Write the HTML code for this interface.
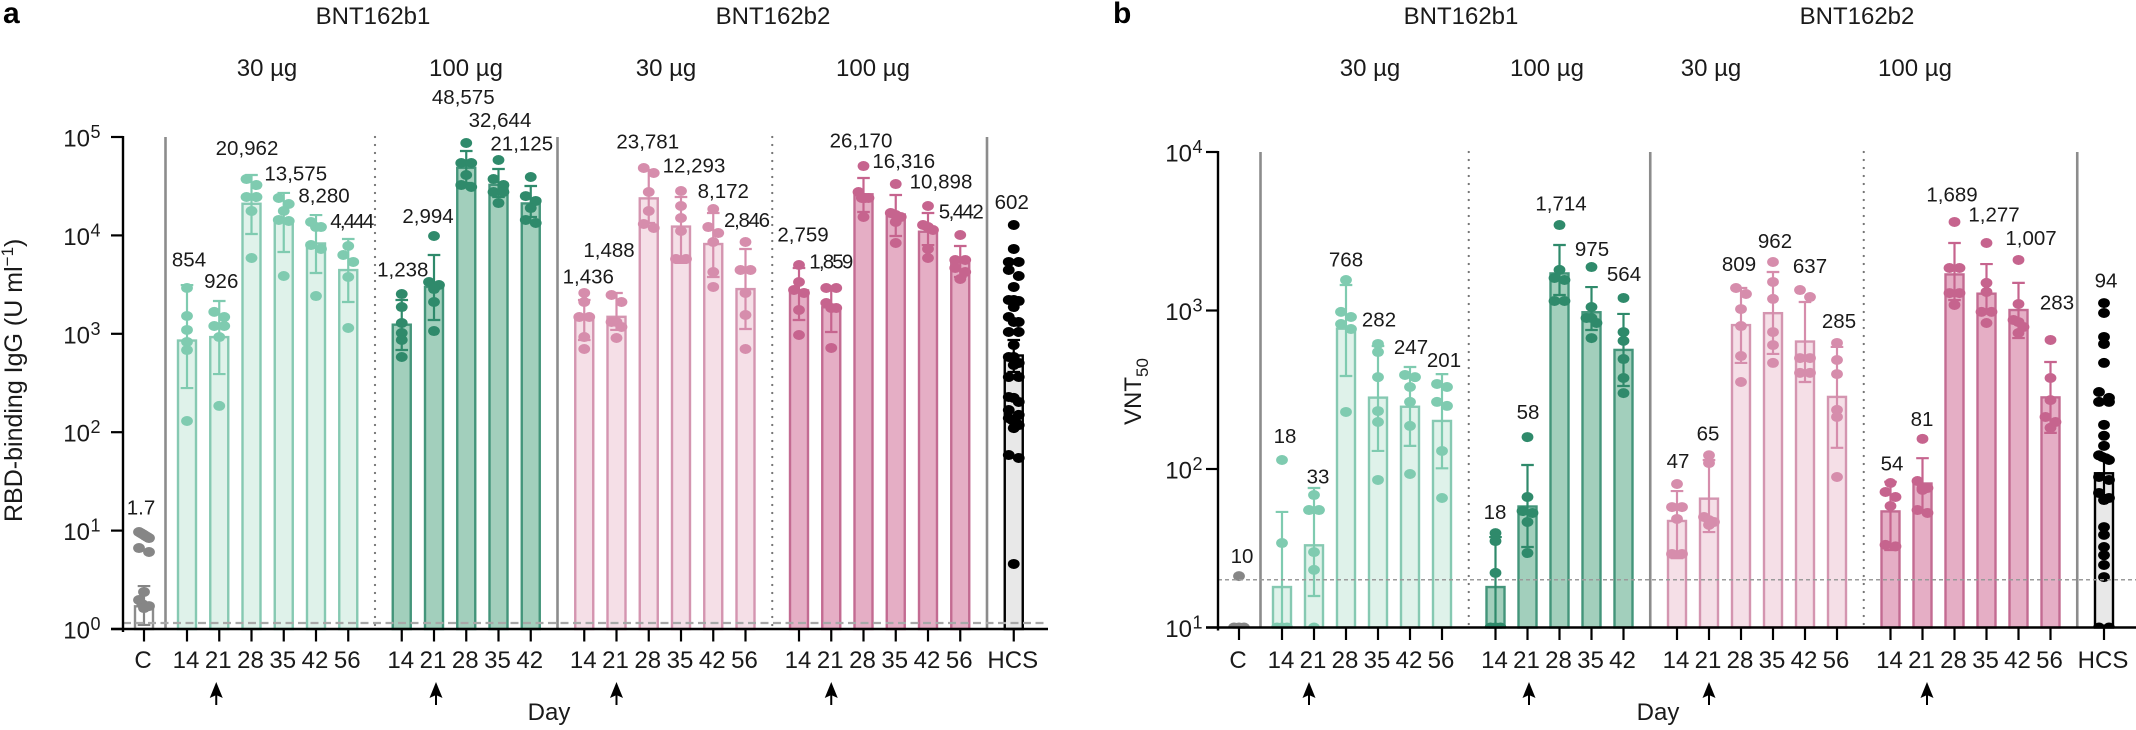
<!DOCTYPE html>
<html lang="en">
<head>
<meta charset="utf-8">
<title>RBD-binding IgG and VNT50 by day</title>
<style>
html,body{margin:0;padding:0;background:#fff;width:2136px;height:730px;overflow:hidden}
svg{display:block}
text{font-family:"Liberation Sans",Arial,sans-serif;fill:#1a1a1a}
</style>
</head>
<body>
<svg id="figure" xmlns="http://www.w3.org/2000/svg" width="2136" height="730" viewBox="0 0 2136 730">
  <defs>
    <clipPath id="clip-a"><rect x="123" y="100" width="930" height="529"/></clipPath>
    <clipPath id="clip-b"><rect x="1218" y="100" width="918" height="527.5"/></clipPath>
  </defs>
  <rect x="0" y="0" width="2136" height="730" fill="#ffffff"/>

  <text x="3" y="23" font-size="30" font-weight="700" style="fill:#000">a</text>
  <text x="1113" y="23" font-size="30" font-weight="700" style="fill:#000">b</text>

  <g font-size="24" text-anchor="middle">
    <text x="373" y="24">BNT162b1</text>
    <text x="773" y="24">BNT162b2</text>
    <text x="267" y="76">30 µg</text>
    <text x="466" y="76">100 µg</text>
    <text x="666" y="76">30 µg</text>
    <text x="873" y="76">100 µg</text>
  </g>
  <g font-size="24" text-anchor="middle">
    <text x="1461" y="24">BNT162b1</text>
    <text x="1857" y="24">BNT162b2</text>
    <text x="1370" y="76">30 µg</text>
    <text x="1547" y="76">100 µg</text>
    <text x="1711" y="76">30 µg</text>
    <text x="1915" y="76">100 µg</text>
  </g>

  <text transform="translate(22,522) rotate(-90)" font-size="25">RBD-binding IgG (U ml<tspan font-size="17" dy="-9">−1</tspan><tspan dy="9">)</tspan></text>
  <text transform="translate(1141,425) rotate(-90)" font-size="24">VNT<tspan font-size="17" dy="7">50</tspan></text>

  <text x="549" y="720" font-size="24" text-anchor="middle">Day</text>
  <text x="1658" y="720" font-size="24" text-anchor="middle">Day</text>

  <g id="panel-a"></g>
  <g id="panel-b"></g>
</svg>

<script>
/* ---------- shared categories ---------- */
const dayCategories = ['C','14','21','28','35','42','56','14','21','28','35','42','14','21','28','35','42','56','14','21','28','35','42','56','HCS'];
const groupSizes = [1,6,5,6,6,1];

/* ---------- panel a: RBD-binding IgG ---------- */
const aTickExponents = [0,1,2,3,4,5];
const aPrinted = ['1.7','854','926','20,962','13,575','8,280','4,444','1,238','2,994','48,575','32,644','21,125','1,436','1,488','23,781','12,293','8,172','2,846','2,759','1,859','26,170','16,316','10,898','5,442','602'];
const aMeans = [1.7,854,926,20962,13575,8280,4444,1238,2994,48575,32644,21125,1436,1488,23781,12293,8172,2846,2759,1859,26170,16316,10898,5442,602];
const aErrHigh = [2.73,3130,2153,41100,27000,16100,9190,2205,6320,72100,47300,31770,2205,2600,46200,24550,16900,7280,4667,2992,38300,25760,16900,7800,865];
const aErrLow = [1.1,281,390,10330,6780,4150,2104,684,1380,34100,24550,15380,865,1094,13370,5250,3780,1119,1380,1043,17300,9860,7980,3780,409];
const aDots = [
  [9.68,9.46,9.24,9.04,8.8,8.6,8.4,6.65,6.06,2.38,1.97,1.79,1.71,1.71,1.63],
  [2920,1517,1094,826,684,130],
  [1670,1480,1200,1200,927,185],
  [37400,32500,24550,24550,17700,5890],
  [24000,20840,17700,14350,14000,3865],
  [13680,12160,12160,7980,7280,2420],
  [7800,6320,5370,3780,1145],
  [2535,1871,1288,1019,865,581],
  [9860,3360,3133,2851,2104,1067],
  [86900,54400,54400,41100,32500,31050],
  [58400,37400,32500,27600,27600,21330],
  [39200,25100,22390,18970,14350,13370],
  [2600,2104,1482,1482,927,701],
  [2478,2104,1318,1318,1172,906],
  [48400,43050,27600,17700,13060,11890],
  [28250,19900,15030,11090,5755,5755],
  [18550,12160,10570,8570,4246,2992],
  [8570,4450,4450,2600,1552,701],
  [5000,3360,2786,2600,1746,972],
  [2920,2920,2056,1829,1829,718],
  [50700,27600,24000,24000,24000,15380],
  [33270,16900,16100,15380,13680,8375],
  [19900,12760,12160,11350,7280,5890],
  [10090,5620,5620,4667,4246,3606],
  [12760,7280,5370,5370,4450,3865,2992,2205,2205,2153,1871,1482,1318,1318,1043,1043,769,581,581,505,482,364,364,228,223,203,168,150,139,133,127,118,110,58.6,54.7,4.58]
];
const aQuantLimit = 1.15;
/* annotation placement of the printed values, relative to each bar top */
const aLabelDx = [-3,2,2,-4.5,12,8,4,1,-6,-3,1.5,-9,4,-7.5,-1,13,10,1.5,4,0,-2.5,8,13,1,-2];
const aLabelDy = [-92,-74,-49,-49,-42,-41,-42,-48,-64,-64,-58,-53,-35,-60,-50,-54,-46,-62,-49,-39,-47,-46.5,-43,-43,-146.5];

/* ---------- panel b: VNT50 ---------- */
const bTickExponents = [1,2,3,4];
const bPrinted = ['10','18','33','768','282','247','201','18','58','1,714','975','564','47','65','809','962','637','285','54','81','1,689','1,277','1,007','283','94'];
const bMeans = [10,18,33,768,282,247,201,18,58,1714,975,564,47,65,809,962,637,285,54,81,1689,1277,1007,283,94];
const bErrHigh = [10,53.6,75.9,1449,597,440,397,37.2,106,2590,1406,951,72.6,114,1387,1750,1132,589,83,117,2667,1963,1493,473,117];
const bErrLow = [10,10,15.8,386,130,140,101,10,32.2,1253,753,334,27.4,40,467,532,354,136,30.8,55.1,1164,964,670,169,68.5];
const bDots = [
  [21.1,10,10,10],
  [114,34.1,10,10,10],
  [68.5,55.1,55.1,29.9,23.1,10],
  [1557,980,910,822,764,229],
  [615,547,380,232,198,85.3],
  [392,380,329,265,187,93],
  [344,329,265,250,130,65.6],
  [39.4,35.1,22.1,10,10,10],
  [159,66.6,54.3,52.8,46.3,29.5],
  [3460,1803,1603,1557,1148,1148],
  [1880,1052,897,897,834,670],
  [1200,731,643,494,375,301],
  [80.4,57.5,57.5,48.4,29.1,29.1],
  [122,109,49.8,47.6,46.3,44.4],
  [1387,1271,1021,798,516,354],
  [2023,1514,1183,731,605,467],
  [1346,1216,501,501,404,404],
  [624,487,397,236,213,89],
  [81.6,71.6,66.6,58.4,33.2,32.5],
  [155,84,75.9,75.9,73.8,55.1,52.8],
  [3620,1854,1854,1288,1288,1084],
  [2667,1493,1309,980,980,834],
  [2084,1099,871,845,787,721],
  [652,375,272,213,198,182],
  [1114,964,681,615,467,306,281,265,265,190,162,140,122,119,117,114,89,85.3,70.6,65.6,63.7,43,38.4,32.2,28.6,24.8,20.8,10,10]
];
const bQuantLimit = 20;
const bLabelDx = [3,3,4,0,1,1,2,-0.5,0.5,1.5,0.5,0.5,1,-1,-2,2,5,2,1.5,-0.5,-2.5,7.5,12.5,6.5,2];
const bLabelDy = [-64.5,-144,-62,-62,-71,-53,-54,-68,-87.5,-63,-56,-69,-53,-58,-54,-65,-68.5,-69,-41,-57.5,-73,-72,-65,-88,-186];

/* ---------- styles per group ---------- */
const groupStroke = ['#8c8c8c','#86c9b2','#43957a','#d495b0','#c36b92','#000000'];
const groupFill = ['#ffffff','#dff2ea','#a2cfbc','#f5dfe7','#e5aec5','#e8e8e8'];
const groupDot = ['#868686','#7fcbb0','#2f8a6b','#d68dac','#c6648e','#000000'];

const SVGNS = 'http://www.w3.org/2000/svg';

function make(tag, attrs, parent) {
  const el = document.createElementNS(SVGNS, tag);
  for (const k in attrs) el.setAttribute(k, attrs[k]);
  parent.appendChild(el);
  return el;
}

function yScaleA(v) { return 629 - 98.4 * Math.log10(v); }
function yScaleB(v) { return 627.5 - 158.5 * (Math.log10(v) - 1); }

function xScale(cfg, index) {
  let remaining = index, x = cfg.x0;
  for (let g = 0; g < groupSizes.length; g++) {
    if (remaining < groupSizes[g]) return x + remaining * cfg.step;
    x += (groupSizes[g] - 1) * cfg.step + (g === 0 ? cfg.firstGap : cfg.gap);
    remaining -= groupSizes[g];
  }
  return x;
}

function groupOf(index) {
  let remaining = index;
  for (let g = 0; g < groupSizes.length; g++) {
    if (remaining < groupSizes[g]) return g;
    remaining -= groupSizes[g];
  }
  return groupSizes.length - 1;
}

/* Bin values into rows by pixel closeness and spread each row symmetrically */
function swarm(values, yOf) {
  const sorted = values.slice().sort(function (p, q) { return q - p; });
  const rows = [];
  sorted.forEach(function (v) {
    const y = yOf(v);
    const row = rows[rows.length - 1];
    if (row && y - row.y0 < 7) row.items.push(v);
    else rows.push({ y0: y, items: [v] });
  });
  const out = [];
  rows.forEach(function (row) {
    const n = row.items.length;
    row.items.forEach(function (v, i) {
      out.push({ v: v, dx: n === 1 ? 0 : -5 + 10 * i / (n - 1) });
    });
  });
  return out;
}

const labelFit = { '4,444': 44, '2,846': 46, '1,859': 44, '5,442': 45 };

function drawPanel(cfg) {
  const root = document.getElementById(cfg.id);
  const y = cfg.y;
  const count = dayCategories.length;

  /* group dividers */
  let cursor = 0;
  for (let g = 0; g < groupSizes.length - 1; g++) {
    cursor += groupSizes[g];
    const xm = (xScale(cfg, cursor - 1) + xScale(cfg, cursor)) / 2;
    const dotted = g === 1 || g === 3;
    const d = make('line', { x1: xm, x2: xm, y1: cfg.top, y2: cfg.axisY, stroke: dotted ? '#757575' : '#8c8c8c', 'stroke-width': dotted ? 2.3 : 2.6 }, root);
    if (dotted) {
      d.setAttribute('stroke-dasharray', '0 8');
      d.setAttribute('stroke-linecap', 'round');
    }
    
    
  }

  /* bars */
  for (let i = 0; i < count; i++) {
    const g = groupOf(i);
    const x = xScale(cfg, i);
    const top = y(cfg.means[i]);
    const bar = make('rect', { x: x - 9, y: top, width: 18, height: Math.max(0, cfg.axisY - top), fill: groupFill[g], stroke: groupStroke[g], 'stroke-width': 2.4 }, root);
    
    
  }

  /* error bars */
  for (let i = 0; i < count; i++) {
    const g = groupOf(i);
    const x = xScale(cfg, i);
    const hi = y(cfg.errHigh[i]);
    const lo = y(cfg.errLow[i]);
    const path = make('path', {
      d: 'M' + x + ' ' + hi + 'V' + lo + 'M' + (x - 6.3) + ' ' + hi + 'H' + (x + 6.3) + 'M' + (x - 6.3) + ' ' + lo + 'H' + (x + 6.3),
      fill: 'none', stroke: groupStroke[g] === '#000000' ? '#000000' : groupDot[g], 'stroke-width': 2.2
    }, root);
    
    
  }

  /* dots */
  const dotLayer = make('g', { 'clip-path': 'url(#clip-' + cfg.key + ')' }, root);
  
  
  for (let i = 0; i < count; i++) {
    const g = groupOf(i);
    const x = xScale(cfg, i);
    swarm(cfg.dots[i], y).forEach(function (p, k) {
      const dot = make('ellipse', { cx: x + p.dx, cy: y(p.v), rx: 5.9, ry: 5, fill: groupDot[g] }, dotLayer);
      
      
    });
  }

  /* quantification limit */
  const ql = make('line', { x1: cfg.axisX, x2: cfg.axisEnd, y1: y(cfg.limit), y2: y(cfg.limit), stroke: cfg.limitColor, 'stroke-width': cfg.limitWidth, 'stroke-dasharray': cfg.limitDash }, root);
  
  

  /* axes */
  const yAxis = make('line', { x1: cfg.axisX, x2: cfg.axisX, y1: cfg.top - 1, y2: cfg.axisY + 3, stroke: '#000', 'stroke-width': 2.4 }, root);
  
  
  const xAxis = make('line', { x1: cfg.axisX - 12, x2: cfg.axisEnd, y1: cfg.axisY, y2: cfg.axisY, stroke: '#000', 'stroke-width': 2.4 }, root);
  
  

  cfg.ticks.forEach(function (e) {
    const ty = y(Math.pow(10, e));
    const tick = make('line', { x1: cfg.axisX - 12, x2: cfg.axisX, y1: ty, y2: ty, stroke: '#000', 'stroke-width': 2.2 }, root);
    
    
    const base = make('text', { x: cfg.axisX - cfg.tickLabelGap, y: ty + 9.5, 'font-size': 24, 'text-anchor': 'end' }, root);
    base.textContent = '10';
    
    
    const sup = make('text', { x: cfg.axisX - cfg.tickLabelGap + 0.5, y: ty + 1, 'font-size': 18 }, root);
    sup.textContent = String(e);
    
    
  });

  for (let i = 0; i < count; i++) {
    const x = xScale(cfg, i);
    const tick = make('line', { x1: x, x2: x, y1: cfg.axisY, y2: cfg.axisY + 12.5, stroke: '#000', 'stroke-width': 2.2 }, root);
    
    
    const t = make('text', { x: x - 1, y: 668, 'font-size': 24, 'text-anchor': 'middle' }, root);
    t.textContent = dayCategories[i];
    
    
  }

  /* printed values */
  for (let i = 0; i < count; i++) {
    const x = xScale(cfg, i);
    const lab = make('text', { x: x + cfg.labelDx[i], y: y(cfg.means[i]) + cfg.labelDy[i], 'font-size': 20.5, 'text-anchor': 'middle' }, root);
    lab.textContent = cfg.printed[i];
    
    
    if (labelFit[cfg.printed[i]]) {
      lab.setAttribute('textLength', labelFit[cfg.printed[i]]);
      lab.setAttribute('lengthAdjust', 'spacing');
    }
  }

  /* boost-dose arrows under each day-21 tick */
  const day21 = [2, 8, 13, 19];
  day21.forEach(function (idx, n) {
    const ax = xScale(cfg, idx) + cfg.arrowNudge[n];
    const arrow = make('path', {
      d: 'M' + ax + ' 682L' + (ax + 6.5) + ' 698L' + (ax + 1) + ' 695.5V705H' + (ax - 1) + 'V695.5L' + (ax - 6.5) + ' 698Z',
      fill: '#000'
    }, root);
    
    
  });
}

drawPanel({
  id: 'panel-a', key: 'a', y: yScaleA, x0: 144, step: 32.25, firstGap: 43, gap: 53.5,
  top: 137, axisX: 123, axisY: 629, axisEnd: 1048, ticks: aTickExponents, tickLabelGap: 33,
  printed: aPrinted, means: aMeans, errHigh: aErrHigh, errLow: aErrLow, dots: aDots,
  labelDx: aLabelDx, labelDy: aLabelDy, limit: aQuantLimit,
  limitColor: '#a8a8a8', limitWidth: 2.2, limitDash: '8 4.5', arrowNudge: [-3, 2, 0, 0]
});

drawPanel({
  id: 'panel-b', key: 'b', y: yScaleB, x0: 1239, step: 32, firstGap: 43, gap: 53.5,
  top: 152, axisX: 1218, axisY: 627.5, axisEnd: 2136, ticks: bTickExponents, tickLabelGap: 26,
  printed: bPrinted, means: bMeans, errHigh: bErrHigh, errLow: bErrLow, dots: bDots,
  labelDx: bLabelDx, labelDy: bLabelDy, limit: bQuantLimit,
  limitColor: '#9a9a9a', limitWidth: 1.5, limitDash: '4 3', arrowNudge: [-5, 1.5, 0, 4.5]
});
</script>
</body>
</html>
